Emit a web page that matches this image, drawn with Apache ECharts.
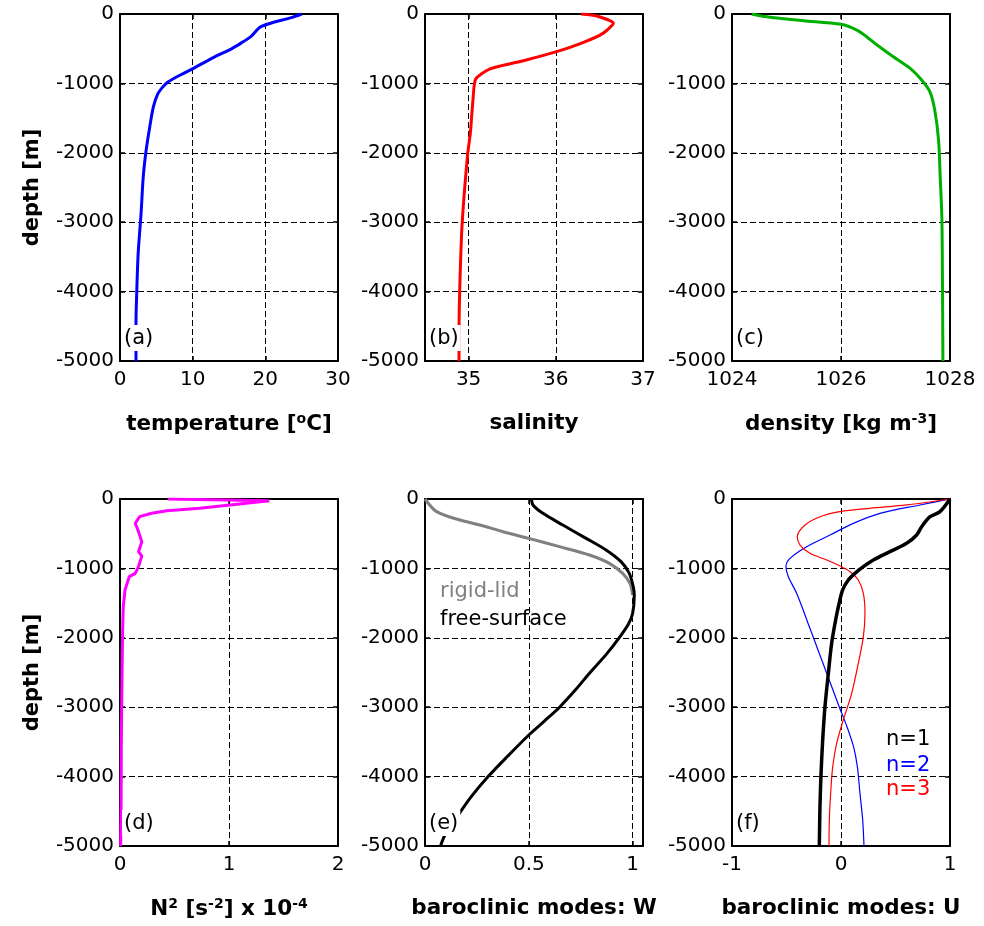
<!DOCTYPE html>
<html><head><meta charset="utf-8">
<script src="https://cdn.jsdelivr.net/npm/echarts@6/dist/echarts.min.js"></script>
<style>html,body{margin:0;padding:0;background:#fff}#c{width:984px;height:926px}</style>
</head><body><div id="c"></div>
<script>
// ---- tick values ----
const depthTicks = [0, -1000, -2000, -3000, -4000, -5000];
const tempTicks = [0, 10, 20, 30];
const salTicks = [35, 36, 37];
const densTicks = [1024, 1026, 1028];
const n2Ticks = [0, 1, 2];
const wTicks = [0, 0.5, 1];
const uTicks = [-1, 0, 1];

// ---- (a) temperature ----
const tempDepth = [0, -48, -182, -327, -423, -509, -624, -783, -879, -930, -980, -1050, -1150, -1335, -1623, -1960, -2344, -2872, -3449, -4025, -4457, -5000];
const tempValue = [25.0, 23.7, 19.4, 18.0, 16.6, 15.2, 12.9, 10.1, 8.3, 7.4, 6.6, 5.9, 5.2, 4.6, 4.1, 3.6, 3.2, 2.9, 2.5, 2.3, 2.2, 2.2];

// ---- (b) salinity ----
const salDepth = [0, -29, -134, -279, -413, -543, -663, -793, -941, -1239, -1719, -2008, -2584, -3160, -3881, -4601, -5000];
const salValue = [36.29, 36.47, 36.66, 36.54, 36.31, 36.01, 35.66, 35.24, 35.08, 35.05, 35.02, 34.99, 34.95, 34.92, 34.90, 34.89, 34.89];

// ---- (c) density ----
const densDepth = [0, -48, -96, -149, -231, -327, -447, -615, -783, -951, -1119, -1383, -1816, -2344, -2920, -3641, -5000];
const densValue = [1024.36, 1024.70, 1025.31, 1026.0, 1026.29, 1026.47, 1026.66, 1026.96, 1027.27, 1027.48, 1027.63, 1027.72, 1027.79, 1027.82, 1027.85, 1027.86, 1027.87];

// ---- (d) N^2 (x 1e-4) ----
const n2Depth = [0, -24, -86, -134, -168, -206, -254, -350, -471, -615, -759, -821, -975, -1071, -1119, -1311, -1551, -1888, -2608, -3569, -4433, -5000];
const n2Value = [0.44, 1.37, 1.01, 0.73, 0.43, 0.29, 0.18, 0.14, 0.17, 0.20, 0.17, 0.20, 0.17, 0.14, 0.085, 0.046, 0.03, 0.024, 0.018, 0.012, 0.01, 0.006];

// ---- (e) W modes ----
const wRigidDepth = [0, -182, -303, -375, -471, -567, -687, -807, -927, -1071, -1215, -1383];
const wRigidValue = [0, 0.056, 0.168, 0.264, 0.376, 0.5, 0.648, 0.792, 0.888, 0.952, 0.987, 1.0];
const wFreeDepth = [0, -86, -207, -375, -567, -735, -903, -1071, -1263, -1383, -1650, -1800, -2000, -2250, -2500, -2750, -3000, -3200, -3400, -3700, -4000, -4300, -4600, -4850, -5000];
const wFreeValue = [0.513, 0.52, 0.568, 0.664, 0.776, 0.872, 0.944, 0.984, 1.003, 1.008, 1.0, 0.98, 0.935, 0.87, 0.795, 0.725, 0.648, 0.575, 0.5, 0.4, 0.304, 0.22, 0.15, 0.095, 0.075];

// ---- (f) U modes ----
const u1Depth = [0, -182, -255, -399, -519, -639, -759, -879, -975, -1071, -1167, -1311, -1552, -1792, -2080, -2512, -2992, -3473, -3953, -4433, -5000];
const u1Value = [1.0, 0.908, 0.817, 0.74, 0.694, 0.602, 0.449, 0.297, 0.205, 0.128, 0.067, 0.015, -0.024, -0.055, -0.086, -0.116, -0.147, -0.168, -0.183, -0.193, -0.199];
const u2Depth = [0, -86, -207, -351, -519, -687, -855, -975, -1119, -1359, -1800, -2200, -2600, -3000, -3281, -3569, -3857, -4241, -4625, -5000];
const u2Value = [1.0, 0.725, 0.358, 0.113, -0.1, -0.315, -0.468, -0.505, -0.483, -0.407, -0.30, -0.205, -0.11, -0.015, 0.055, 0.115, 0.150, 0.174, 0.199, 0.211];
const u3Depth = [0, -86, -134, -182, -255, -375, -543, -663, -783, -879, -965, -1047, -1167, -1359, -1647, -1984, -2368, -2800, -3184, -3521, -3857, -4241, -4625, -5000];
const u3Value = [1.0, 0.602, 0.266, -0.009, -0.193, -0.330, -0.401, -0.376, -0.284, -0.131, -0.009, 0.083, 0.159, 0.205, 0.220, 0.205, 0.159, 0.098, 0.021, -0.040, -0.076, -0.095, -0.107, -0.110];

const FONT = 'DejaVu Sans';
const zip = (xs, ys) => xs.map((v, i) => [v, ys[i]]);

const panels = [
  { left: 120, top: 14, min: 0, max: 30, ticks: tempTicks, name: 'temperature [{sup|o}C]', yName: 'depth [m]', label: '(a)',
    lines: [{ data: zip(tempValue, tempDepth), color: '#0000ff', width: 3, smooth: 0.3 }] },
  { left: 425, top: 14, min: 34.5, max: 37, ticks: salTicks, name: 'salinity', label: '(b)',
    lines: [{ data: zip(salValue, salDepth), color: '#ff0000', width: 3, smooth: 0.2 }] },
  { left: 732, top: 14, min: 1024, max: 1028, ticks: densTicks, name: 'density [kg m{sup|-3}]', label: '(c)',
    lines: [{ data: zip(densValue, densDepth), color: '#00b000', width: 3, smooth: 0.3 }] },
  { left: 120, top: 499, min: 0, max: 2, ticks: n2Ticks, name: 'N{sup|2} [s{sup|-2}] x 10{sup|-4}', yName: 'depth [m]', label: '(d)',
    lines: [{ data: zip(n2Value, n2Depth), color: '#ff00ff', width: 3 }] },
  { left: 425, top: 499, min: 0, max: 1.05, ticks: wTicks, name: 'baroclinic modes: W', label: '(e)',
    lines: [{ data: zip(wRigidValue, wRigidDepth), color: '#808080', width: 3, smooth: 0.3 },
            { data: zip(wFreeValue, wFreeDepth), color: '#000000', width: 3, smooth: 0.3 }] },
  { left: 732, top: 499, min: -1, max: 1, ticks: uTicks, name: 'baroclinic modes: U', label: '(f)',
    lines: [{ data: zip(u2Value, u2Depth), color: '#0000ff', width: 1.2, smooth: 0.3 },
            { data: zip(u3Value, u3Depth), color: '#ff0000', width: 1.2, smooth: 0.3 },
            { data: zip(u1Value, u1Depth), color: '#000000', width: 3.5, smooth: 0.3 }] }
];

const W = 218, H = 347;
const grid = [], xAxis = [], yAxis = [], series = [], graphic = [];
const supRich = { sup: { fontSize: 14, fontWeight: 'bold', fontFamily: FONT, verticalAlign: 'top', padding: [0, 0, 10, 0] } };
const plain = v => String(v);

panels.forEach((p, i) => {
  grid.push({ left: p.left, top: p.top, width: W, height: H, show: false });
  const common = {
    type: 'value', gridIndex: i,
    axisLine: { show: true, onZero: false, lineStyle: { color: '#000', width: 2 } },
  };
  xAxis.push(Object.assign({}, common, {
    position: 'bottom', min: p.min, max: p.max,
    axisTick: { show: true, inside: true, length: 5, customValues: p.ticks, lineStyle: { color: '#000', width: 1.5 } },
    axisLabel: { show: true, customValues: p.ticks, formatter: plain, margin: 9, color: '#000', fontSize: 20, fontFamily: FONT },
    splitLine: { show: true, lineStyle: { color: '#000', width: 1, type: [6, 3] } },
    name: p.name, nameLocation: 'middle', nameGap: 51,
    nameTextStyle: { color: '#000', fontSize: 21.5, fontWeight: 'bold', fontFamily: FONT, rich: supRich }
  }));
  xAxis.push(Object.assign({}, common, {
    position: 'top', min: p.min, max: p.max,
    axisTick: { show: true, inside: true, length: 5, customValues: p.ticks, lineStyle: { color: '#000', width: 1.5 } },
    axisLabel: { show: false }, splitLine: { show: false }
  }));
  yAxis.push(Object.assign({}, common, {
    position: 'left', min: -5000, max: 0, interval: 1000,
    axisTick: { show: true, inside: true, length: 5, customValues: depthTicks, lineStyle: { color: '#000', width: 1.5 } },
    axisLabel: { show: true, customValues: depthTicks, formatter: plain, margin: 6, color: '#000', fontSize: 20, fontFamily: FONT },
    splitLine: { show: true, lineStyle: { color: '#000', width: 1, type: [6, 3] } },
    name: p.yName || '', nameLocation: 'middle', nameGap: 77,
    nameTextStyle: { color: '#000', fontSize: 21, fontWeight: 'bold', fontFamily: FONT }
  }));
  yAxis.push(Object.assign({}, common, {
    position: 'right', min: -5000, max: 0, interval: 1000,
    axisTick: { show: true, inside: true, length: 5, customValues: depthTicks, lineStyle: { color: '#000', width: 1.5 } },
    axisLabel: { show: false }, splitLine: { show: false }
  }));
  p.lines.forEach(l => {
    series.push({
      type: 'line', xAxisIndex: 2 * i, yAxisIndex: 2 * i, data: l.data,
      showSymbol: false, symbol: 'none', smooth: l.smooth || false, clip: true,
      lineStyle: { color: l.color, width: l.width }, z: 3, silent: true, animation: false
    });
  });
  graphic.push({
    type: 'text', left: p.left + 2, top: p.top + H - 36, z: 100,
    style: { text: p.label, fontSize: 21, fontFamily: FONT, fill: '#000', backgroundColor: '#fff', padding: [3, 2, 2, 2] }
  });
});

graphic.push({ type: 'text', left: 440, top: 581, z: 100, style: { text: 'rigid-lid', fontSize: 21, fontFamily: FONT, fill: '#808080' } });
graphic.push({ type: 'text', left: 440, top: 609, z: 100, style: { text: 'free-surface', fontSize: 21, fontFamily: FONT, fill: '#000' } });
graphic.push({ type: 'text', left: 886, top: 729, z: 100, style: { text: 'n=1', fontSize: 21, fontFamily: FONT, fill: '#000' } });
graphic.push({ type: 'text', left: 886, top: 755, z: 100, style: { text: 'n=2', fontSize: 21, fontFamily: FONT, fill: '#0000ff' } });
graphic.push({ type: 'text', left: 886, top: 779, z: 100, style: { text: 'n=3', fontSize: 21, fontFamily: FONT, fill: '#ff0000' } });

const chart = echarts.init(document.getElementById('c'), null, { renderer: 'canvas' });
chart.setOption({ animation: false, backgroundColor: '#fff', grid, xAxis, yAxis, series, graphic });
</script></body></html>
